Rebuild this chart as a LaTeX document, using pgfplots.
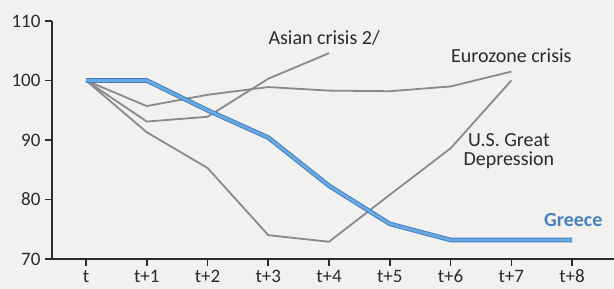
\documentclass[border=0pt]{standalone}
\usepackage{fontspec}
\setmainfont{Carlito}
\usepackage{pgfplots}
\pgfplotsset{compat=1.18}
\definecolor{bg}{HTML}{F1F1EF}
\definecolor{ser}{HTML}{8A8A8A}
\definecolor{txt}{HTML}{2B2B2B}
\definecolor{gdark}{HTML}{3F7DC0}
\definecolor{glight}{HTML}{6AA8E0}
\definecolor{glab}{HTML}{4A80B9}
\tikzset{lab/.style={anchor=base, inner sep=0pt, text height=13pt, text depth=3pt, font=\fontsize{20}{24}\selectfont}}
\begin{document}
\begin{tikzpicture}
\fill[bg] (-52pt,-30pt) rectangle (562pt,259pt);
\begin{axis}[
  scale only axis, width=562pt, height=238pt,
  xmin=-0.56, xmax=8.69, ymin=70, ymax=110,
  axis x line=bottom, axis y line=left,
  axis line style={line width=1.8pt, color=txt, -},
  tick align=outside, major tick length=7pt,
  tick style={line width=1.6pt, color=txt},
  xtick={0,1,2,3,4,5,6,7,8},
  xticklabels={t,t+1,t+2,t+3,t+4,t+5,t+6,t+7,t+8},
  ytick={70,80,90,100,110},
  /pgf/number format/assume math mode=true,
  ticklabel style={font=\fontsize{19}{22}\selectfont, text=txt},
  xticklabel style={anchor=base, yshift=-17pt, inner sep=0pt, text depth=0pt},
  yticklabel style={xshift=-1pt},
  clip=false,
]
\addplot[ser, line width=1.8pt] coordinates {(0,100) (1,93.1) (2,93.9) (3,100.3) (4,104.6)};
\addplot[ser, line width=1.8pt] coordinates {(0,100) (1,95.7) (2,97.6) (3,98.9) (4,98.3) (5,98.2) (6,99.0) (7,101.5)};
\addplot[ser, line width=1.8pt] coordinates {(0,100) (1,91.3) (2,85.3) (3,74.0) (4,72.9) (5,80.8) (6,88.6) (7,100.0)};
\addplot[gdark, line width=4.6pt, line join=round] coordinates {(0,100) (1,100) (2,95) (3,90.4) (4,82.3) (5,75.9) (6,73.2) (7,73.2) (8,73.2)};
\addplot[glight, line width=2.8pt, line join=round] coordinates {(0,100) (1,100) (2,95) (3,90.4) (4,82.3) (5,75.9) (6,73.2) (7,73.2) (8,73.2)};
\node[lab, text=txt] at (axis cs:3.92,106.1) {Asian crisis 2/};
\node[lab, text=txt] at (axis cs:7.0,103.1) {Eurozone crisis};
\node[lab, text=txt] at (axis cs:6.96,88.9) {U.S. Great};
\node[lab, text=txt] at (axis cs:6.96,85.7) {Depression};
\node[lab, text=glab, font=\fontsize{20}{24}\selectfont\bfseries] at (axis cs:8.02,75.4) {Greece};
\end{axis}
\pgfresetboundingbox
\useasboundingbox (-52pt,-30pt) rectangle (562pt,259pt);
\end{tikzpicture}
\end{document}
